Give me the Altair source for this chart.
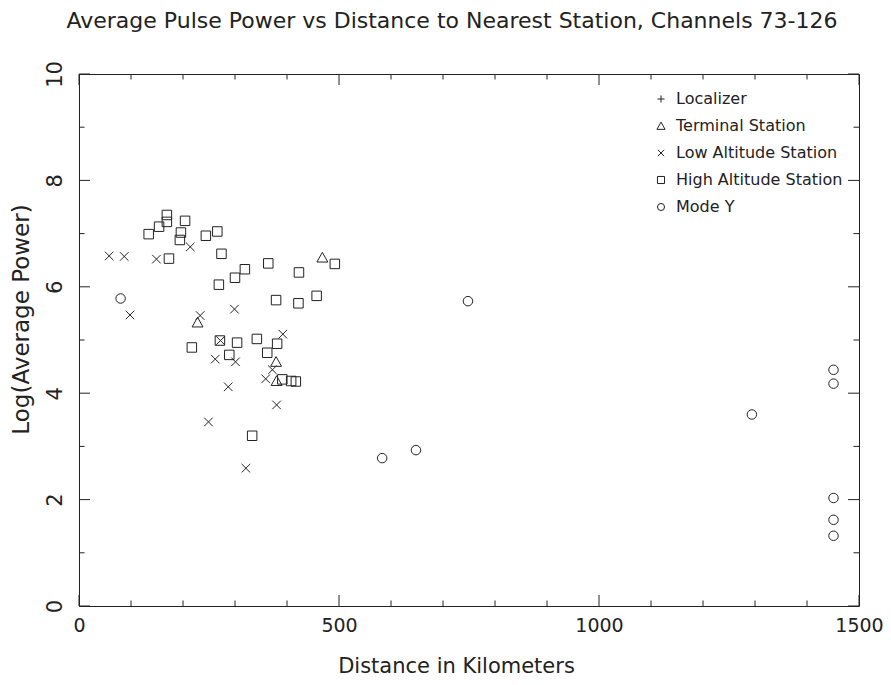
import altair as alt
import pandas as pd

W, H = 780, 532
FONT = "DejaVu Sans"
INK = "#222222"

categories = ["Localizer", "Terminal Station", "Low Altitude Station",
              "High Altitude Station", "Mode Y"]
shape_paths = ["M-1,0L1,0M0,-1L0,1",
               "M0,-1.1L1.15,0.95L-1.15,0.95Z",
               "M-0.9,-0.9L0.9,0.9M-0.9,0.9L0.9,-0.9",
               "square",
               "circle"]

localizer_dist = []
localizer_power = []

terminal_dist = [228, 468, 379, 380]
terminal_power = [5.33, 6.55, 4.59, 4.23]

low_dist = [214, 58, 87, 149, 98, 299, 233, 272, 392, 262, 301, 372, 359,
            287, 380, 249, 321]
low_power = [6.75, 6.58, 6.57, 6.52, 5.47, 5.58, 5.46, 4.99, 5.11, 4.64,
             4.59, 4.44, 4.27, 4.12, 3.78, 3.46, 2.59]

high_dist = [169, 169, 154, 134, 204, 196, 194, 244, 266, 173, 274, 364,
             319, 300, 269, 379, 492, 423, 422, 457, 217, 271, 304, 342,
             381, 362, 289, 391, 408, 417, 333]
high_power = [7.35, 7.22, 7.13, 6.99, 7.24, 7.02, 6.88, 6.96, 7.04, 6.53,
              6.62, 6.44, 6.33, 6.17, 6.04, 5.75, 6.43, 6.27, 5.69, 5.83,
              4.86, 4.99, 4.95, 5.02, 4.93, 4.76, 4.72, 4.26, 4.23, 4.22,
              3.20]

modey_dist = [80, 748, 583, 648, 1294, 1451, 1451, 1451, 1451, 1451]
modey_power = [5.78, 5.73, 2.78, 2.93, 3.60, 4.44, 4.18, 2.03, 1.62, 1.32]

x_major = [0, 500, 1000, 1500]
x_minor = [100, 200, 300, 400, 600, 700, 800, 900, 1100, 1200, 1300, 1400]
y_major = [0, 2, 4, 6, 8, 10]
y_minor = [1, 3, 5, 7, 9]

rows = []
for cat, ds, ps in [("Localizer", localizer_dist, localizer_power),
                    ("Terminal Station", terminal_dist, terminal_power),
                    ("Low Altitude Station", low_dist, low_power),
                    ("High Altitude Station", high_dist, high_power),
                    ("Mode Y", modey_dist, modey_power)]:
    for d, p in zip(ds, ps):
        rows.append({"type": cat, "dist": d, "power": p})
df = pd.DataFrame(rows)

xs = alt.Scale(domain=[0, 1500], nice=False, zero=False)
ys = alt.Scale(domain=[0, 10], nice=False, zero=False)

x_axis = alt.Axis(values=x_major, title="Distance in Kilometers", format="d",
                  ticks=False, domain=False, grid=False,
                  labelPadding=10, titlePadding=20, labelFlush=False,
                  labelFontSize=19, titleX=377, titleFontSize=21)
y_axis = alt.Axis(values=y_major, title="Log(Average Power)", format="d",
                  ticks=False, domain=False, grid=False,
                  labelAngle=270, labelPadding=14, titlePadding=11,
                  labelFlush=False, titleY=245, titleFontSize=23)

points = alt.Chart(df).mark_point(
    filled=False, size=90, strokeWidth=1, color=INK, opacity=1
).encode(
    x=alt.X("dist:Q", scale=xs, axis=x_axis),
    y=alt.Y("power:Q", scale=ys, axis=y_axis),
    shape=alt.Shape("type:N",
                    scale=alt.Scale(domain=categories, range=shape_paths),
                    legend=alt.Legend(title=None, orient="none",
                                      legendX=574, legendY=17,
                                      labelFontSize=16, labelFont=FONT,
                                      labelColor=INK, labelLimit=400,
                                      symbolSize=50,
                                      symbolStrokeWidth=1, rowPadding=11,
                                      labelOffset=7, padding=0)),
)

def xticks(vals, length, top):
    return alt.Chart(pd.DataFrame({"dist": vals})).mark_rule(
        color=INK, strokeWidth=1
    ).encode(
        x=alt.X("dist:Q", scale=xs, axis=x_axis),
        y=alt.value(0 if top else H),
        y2=alt.value(length if top else H - length),
    )

def yticks(vals, length, right):
    return alt.Chart(pd.DataFrame({"power": vals})).mark_rule(
        color=INK, strokeWidth=1
    ).encode(
        y=alt.Y("power:Q", scale=ys, axis=y_axis),
        x=alt.value(W if right else 0),
        x2=alt.value(W - length if right else length),
    )

chart = alt.layer(
    points,
    xticks(x_major, 11, False), xticks(x_major, 11, True),
    xticks(x_minor, 5.5, False), xticks(x_minor, 5.5, True),
    yticks(y_major, 11, False), yticks(y_major, 11, True),
    yticks(y_minor, 5.5, False), yticks(y_minor, 5.5, True),
).properties(
    width=W, height=H,
    autosize=alt.AutoSizeParams(type="none"),
    padding={"left": 71, "top": 66, "right": 24, "bottom": 71},
    title=alt.TitleParams(
        "Average Pulse Power vs Distance to Nearest Station, Channels 73-126",
        fontSize=22, font=FONT, fontWeight="normal", color=INK,
        anchor="middle", offset=28, dx=-17),
).configure_view(
    stroke=INK, strokeWidth=1
).configure_axis(
    labelFont=FONT, labelFontSize=21, labelColor=INK,
    titleFont=FONT, titleFontSize=21, titleColor=INK,
    titleFontWeight="normal",
)

chart.save("out.html", embed_options={"renderer": "svg", "actions": False})
